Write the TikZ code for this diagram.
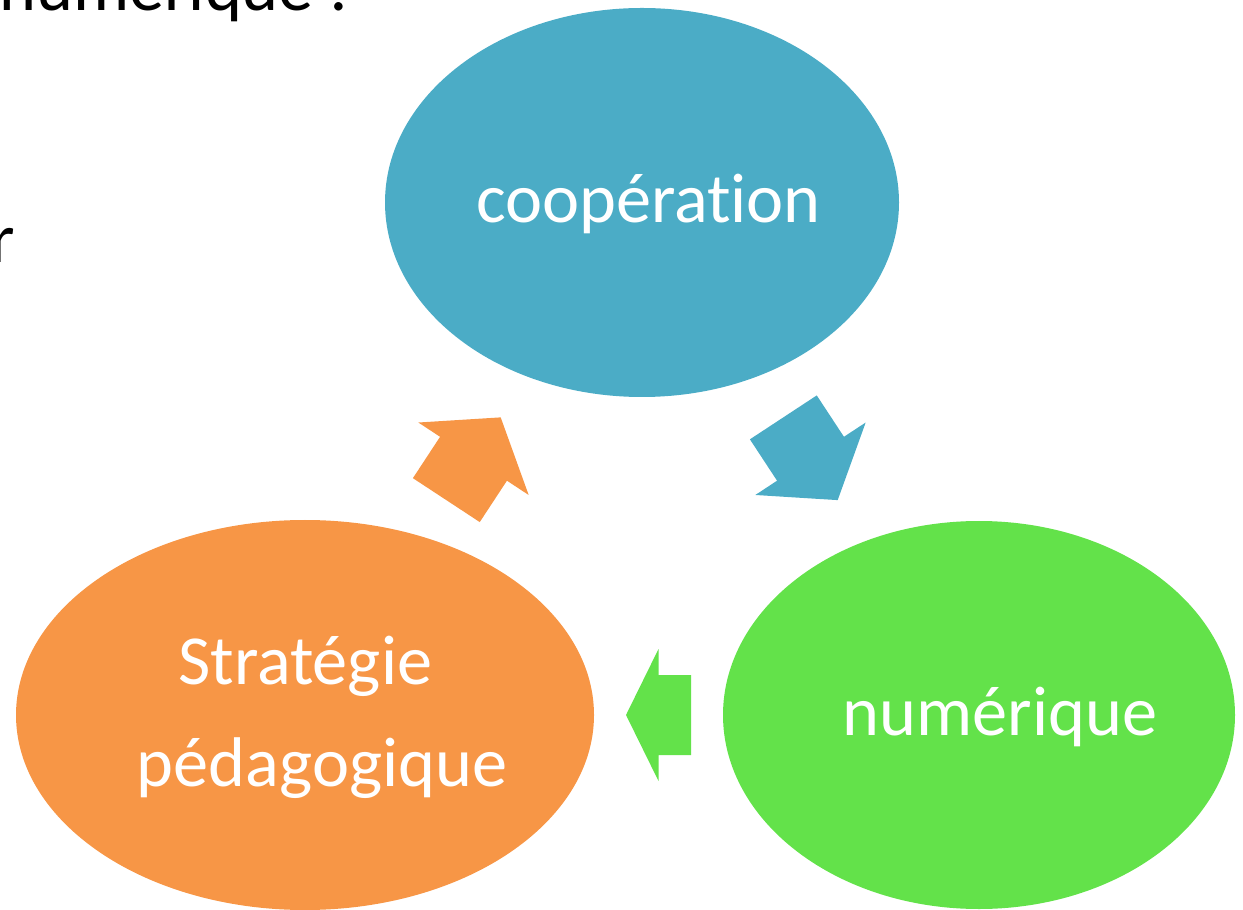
\documentclass[tikz,border=0pt]{standalone}
\usepackage{fontspec}
\setmainfont{Carlito}[Ligatures=NoCommon]
\usetikzlibrary{shapes.geometric,calc}
\begin{document}
\begin{tikzpicture}[
    bubble/.style={shape=ellipse,inner sep=0,outer sep=0},
    bubbletext/.style={text=white,inner sep=0,font=\fontsize{40}{58}\selectfont,align=center},
    slidetext/.style={inner sep=0,font=\fontsize{40}{48}\selectfont}]
    \definecolor{coopblue}{RGB}{75,172,198}
    \definecolor{numgreen}{RGB}{99,226,74}
    \definecolor{stratorange}{RGB}{247,150,70}
    \useasboundingbox (0,0) rectangle (24.86,18.18);
    \clip (0,0) rectangle (24.86,18.18);
    % slide text left behind the diagram
    \node[slidetext,anchor=base east] (title) at (6.98,17.96) {numérique :};
    \node[slidetext,anchor=base east] (cut) at (0.30,12.92) {r};
    % bubbles
    \node[bubble,fill=coopblue,minimum width=10.28cm,minimum height=7.78cm] (coop) at (12.84,14.13) {};
    \node[bubble,fill=numgreen,minimum width=10.24cm,minimum height=7.76cm] (num) at (19.58,3.88) {};
    \node[bubble,fill=stratorange,minimum width=11.56cm,minimum height=7.8cm] (strat) at (6.10,3.88) {};
    \node[bubbletext,anchor=base] (cooplabel) at (12.97,13.72) {coopération};
    \node[bubbletext,anchor=base] (numlabel) at (20.0,3.48) {numérique};
    \node[bubbletext] (stratlabel) at (6.44,3.83) {Stratégie\hspace*{0.48em}\\pédagogique};
    % block arrows round the cycle
    \fill[coopblue,shift={($(coop)!0.5!(num)$)},rotate=-56.7] (-0.99,0.8) -- (0,0.8) -- (0,1.32) -- (0.99,0) -- (0,-1.32) -- (0,-0.8) -- (-0.99,-0.8) -- cycle;
    \fill[numgreen,shift={($(strat.east)!0.5!(num.west)$)},rotate=180] (-0.65,0.8) -- (0,0.8) -- (0,1.32) -- (0.65,0) -- (0,-1.32) -- (0,-0.8) -- (-0.65,-0.8) -- cycle;
    \fill[stratorange,shift={($(strat)!0.5!(coop)$)},rotate=56.7] (-0.99,0.8) -- (0,0.8) -- (0,1.32) -- (0.99,0) -- (0,-1.32) -- (0,-0.8) -- (-0.99,-0.8) -- cycle;
\end{tikzpicture}
\end{document}
